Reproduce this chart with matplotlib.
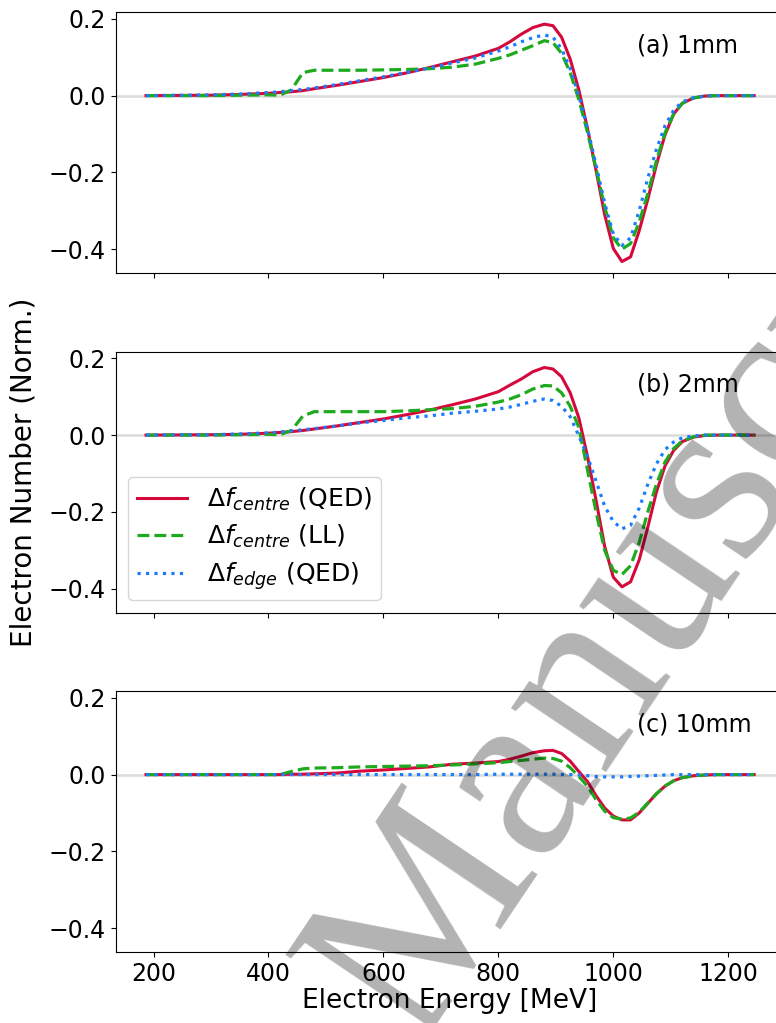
import matplotlib
matplotlib.use('Agg')
import matplotlib.pyplot as plt

# electron energy grid [MeV]
energy = [187, 250, 300, 350, 400, 420, 440, 460, 480, 520, 560, 600, 640, 680, 720,
          760, 800, 820, 840, 860, 880, 895, 910, 925, 940, 955, 970, 985, 1000, 1015,
          1030, 1045, 1060, 1075, 1090, 1105, 1120, 1140, 1160, 1180, 1200, 1245]

# (a) 1mm
a_qed_centre = [0, 0.0005, 0.001, 0.003, 0.006, 0.008, 0.010, 0.013, 0.018, 0.027, 0.037, 0.047,
                0.059, 0.073, 0.088, 0.103, 0.123, 0.140, 0.160, 0.177, 0.186, 0.182, 0.152, 0.095,
                0.015, -0.085, -0.195, -0.310, -0.398, -0.432, -0.420, -0.352, -0.270, -0.180,
                -0.102, -0.048, -0.020, -0.006, -0.001, 0, 0, 0]
a_ll_centre = [0, 0, 0, 0.001, 0.002, 0.001, 0.015, 0.060, 0.066, 0.066, 0.066, 0.067,
               0.068, 0.070, 0.074, 0.082, 0.097, 0.106, 0.118, 0.130, 0.143, 0.138, 0.110, 0.060,
               -0.010, -0.095, -0.190, -0.290, -0.370, -0.400, -0.385, -0.330, -0.255, -0.170,
               -0.097, -0.048, -0.020, -0.006, -0.001, 0, 0, 0]
a_qed_edge = [0, 0.001, 0.002, 0.004, 0.008, 0.010, 0.013, 0.016, 0.020, 0.029, 0.039, 0.049,
              0.060, 0.072, 0.085, 0.098, 0.116, 0.127, 0.140, 0.151, 0.158, 0.152, 0.122, 0.070,
              0.000, -0.085, -0.180, -0.280, -0.360, -0.390, -0.370, -0.300, -0.215, -0.140,
              -0.078, -0.038, -0.016, -0.005, -0.001, 0, 0, 0]

# (b) 2mm
b_qed_centre = [0, 0.0005, 0.001, 0.002, 0.005, 0.007, 0.009, 0.012, 0.016, 0.024, 0.033, 0.042,
                0.053, 0.065, 0.079, 0.094, 0.113, 0.130, 0.146, 0.165, 0.176, 0.172, 0.152, 0.110,
                0.045, -0.055, -0.170, -0.290, -0.370, -0.395, -0.382, -0.325, -0.240, -0.148,
                -0.080, -0.040, -0.017, -0.005, -0.001, 0, 0, 0]
b_ll_centre = [0, 0, 0, 0.001, 0.002, 0.001, 0.012, 0.050, 0.061, 0.061, 0.061, 0.061,
               0.063, 0.066, 0.069, 0.075, 0.086, 0.094, 0.105, 0.120, 0.129, 0.128, 0.110, 0.075,
               0.020, -0.090, -0.200, -0.300, -0.352, -0.363, -0.340, -0.280, -0.200, -0.128,
               -0.070, -0.035, -0.015, -0.004, 0, 0, 0, 0]
b_qed_edge = [0, 0.001, 0.001, 0.003, 0.006, 0.008, 0.011, 0.014, 0.017, 0.024, 0.032, 0.038,
              0.045, 0.050, 0.057, 0.062, 0.068, 0.073, 0.080, 0.088, 0.094, 0.090, 0.075, 0.048,
              -0.002, -0.055, -0.120, -0.185, -0.225, -0.244, -0.235, -0.190, -0.128, -0.075,
              -0.038, -0.018, -0.007, -0.002, 0, 0, 0, 0]

# (c) 10mm
c_qed_centre = [0, 0, 0, 0, 0, 0, 0.001, 0.001, 0.002, 0.004, 0.009, 0.012,
                0.016, 0.020, 0.027, 0.030, 0.034, 0.040, 0.048, 0.057, 0.062, 0.063, 0.055, 0.035,
                0.008, -0.018, -0.055, -0.087, -0.108, -0.118, -0.118, -0.100, -0.075, -0.050,
                -0.030, -0.016, -0.008, -0.003, -0.001, 0, 0, 0]
c_ll_centre = [0, 0, 0, 0, 0, 0, 0.008, 0.015, 0.017, 0.018, 0.020, 0.021,
               0.022, 0.023, 0.025, 0.028, 0.031, 0.034, 0.037, 0.040, 0.043, 0.042, 0.035, 0.018,
               -0.005, -0.030, -0.065, -0.095, -0.112, -0.116, -0.113, -0.098, -0.074, -0.050,
               -0.030, -0.016, -0.008, -0.003, -0.001, 0, 0, 0]
c_qed_edge = [0, 0, 0, 0, 0, 0, 0, 0, 0, 0, 0, 0,
              0, 0, 0, 0, 0.001, 0.001, 0.001, 0.001, 0.001, 0.001, 0, 0,
              -0.001, -0.003, -0.005, -0.006, -0.006, -0.006, -0.005, -0.004, -0.003, -0.002,
              -0.001, 0, 0, 0, 0, 0, 0, 0]

panels = [
    ('(a) 1mm', a_qed_centre, a_ll_centre, a_qed_edge),
    ('(b) 2mm', b_qed_centre, b_ll_centre, b_qed_edge),
    ('(c) 10mm', c_qed_centre, c_ll_centre, c_qed_edge),
]

plt.rcParams['font.size'] = 17

fig, axes = plt.subplots(3, 1, sharex=True, sharey=True, figsize=(7.76, 10.23), dpi=100)
fig.subplots_adjust(left=0.149, right=1.011, top=0.988, bottom=0.069, hspace=0.30)

for ax, (tag, qed_c, ll_c, qed_e) in zip(axes, panels):
    ax.axhline(0, color='#d9dcd9', linewidth=1.8, zorder=0)
    ax.plot(energy, qed_c, color='#d6083b', linewidth=2.2, label=r'$\Delta f_{centre}$ (QED)')
    ax.plot(energy, ll_c, color='#1eaa1e', linewidth=2.3, linestyle='--',
            label=r'$\Delta f_{centre}$ (LL)')
    ax.plot(energy, qed_e, color='#1a7dff', linewidth=2.3, linestyle=':',
            label=r'$\Delta f_{edge}$ (QED)')
    ax.text(0.78, 0.874, tag, transform=ax.transAxes, fontsize=17, va='center')
    ax.tick_params(labelsize=17)

axes[1].legend(loc='lower left', fontsize=18, labelspacing=0.4, borderpad=0.35)
axes[1].set_ylabel('Electron Number (Norm.)', fontsize=20)
axes[1].yaxis.set_label_coords(-0.1175, 0.538)
axes[2].set_xlabel('Electron Energy [MeV]', fontsize=19, labelpad=1)
axes[2].set_xticks([200, 400, 600, 800, 1000, 1200])
axes[0].set_yticks([-0.4, -0.2, 0.0, 0.2])

# accepted-manuscript watermark
fig.text(0.535, -0.0225, 'Manuscript', rotation=56, rotation_mode='anchor',
         ha='left', va='baseline', fontsize=180, family='Liberation Serif',
         color='black', alpha=0.3, zorder=10)

fig.savefig('out.png', dpi=100)
